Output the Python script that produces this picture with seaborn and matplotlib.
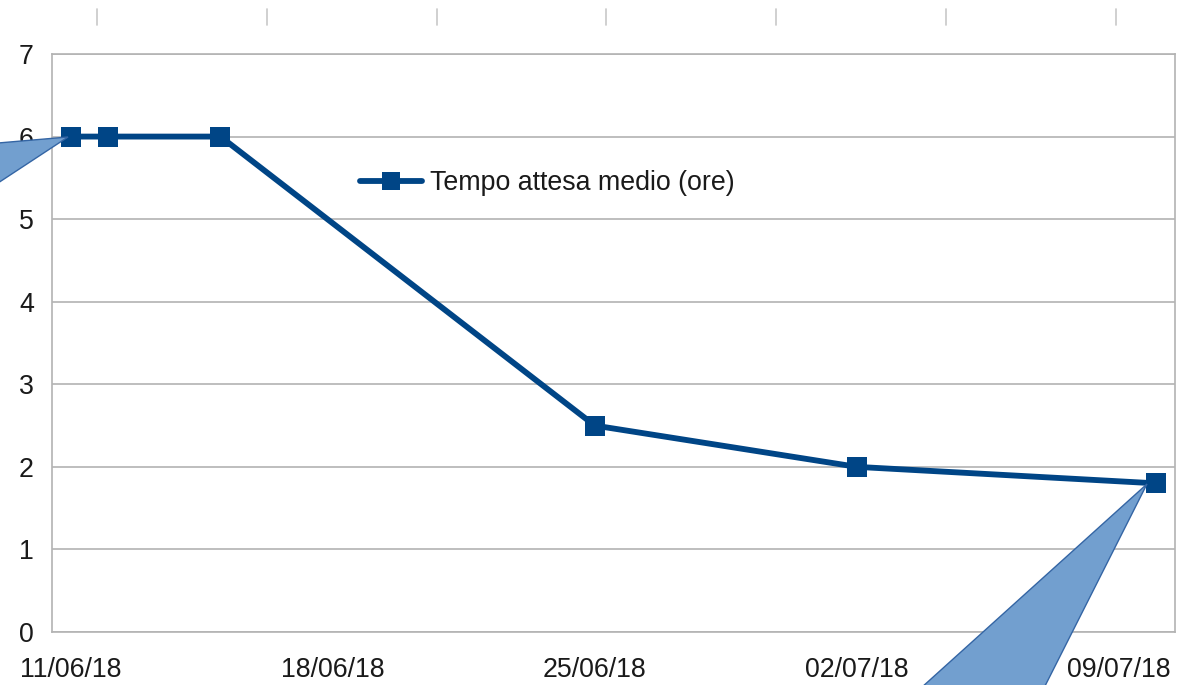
import matplotlib
matplotlib.use("Agg")
import matplotlib.pyplot as plt
import matplotlib.dates as mdates
from matplotlib.patches import Polygon
from matplotlib.lines import Line2D
import seaborn as sns
import pandas as pd

# ---- data ----
dates = ["2018-06-11", "2018-06-12", "2018-06-15", "2018-06-25", "2018-07-02", "2018-07-10"]
values = [6, 6, 6, 2.5, 2, 1.8]
series_name = "Tempo attesa medio (ore)"
tick_dates = ["2018-06-11", "2018-06-18", "2018-06-25", "2018-07-02", "2018-07-09"]

sns.set_theme(style="white")
plt.rcParams["font.family"] = ["Liberation Sans", "DejaVu Sans"]

W, H = 1188, 685
fig = plt.figure(figsize=(W / 100, H / 100), dpi=100)
L, R, T, B = 52, 1175, 54, 632
ax = fig.add_axes([L / W, 1 - B / H, (R - L) / W, (B - T) / H])

# LibreOffice date axis places each day's point (and label) in the middle of the day
half_day = pd.Timedelta(hours=12)
df = pd.DataFrame({"date": pd.to_datetime(dates) + half_day, "value": values})

color = "#004586"
gray = "#b3b3b3"
FS = 19.3
sns.lineplot(data=df, x="date", y="value", ax=ax, color=color, linewidth=4.2,
             marker="s", markersize=14.5, markeredgewidth=0, label=series_name)

ax.set_xlim(pd.Timestamp("2018-06-11"), pd.Timestamp("2018-07-11"))
ax.set_ylim(0, 7)
ax.set_yticks(range(0, 8))
# tick marks at day start, labels at day middle
ax.set_xticks(pd.to_datetime(tick_dates))
ax.xaxis.set_major_formatter(mdates.DateFormatter(""))
ax.set_xticks(pd.to_datetime(tick_dates) + half_day, minor=True)
ax.xaxis.set_minor_formatter(mdates.DateFormatter("%d/%m/%y"))
ax.set_xlabel("")
ax.set_ylabel("")

ax.grid(axis="y", color=gray, linewidth=1.2)
ax.set_axisbelow(True)
for s in ax.spines.values():
    s.set_color(gray)
    s.set_linewidth(1.2)
ax.tick_params(axis="both", which="both", labelsize=FS, labelcolor="#1a1a1a",
               color=gray, width=1.2, direction="out")
ax.tick_params(axis="x", which="major", length=10, pad=8)
ax.tick_params(axis="x", which="minor", length=0, pad=18)
ax.tick_params(axis="y", which="major", length=10, pad=3)

leg = ax.legend(loc="center left", bbox_to_anchor=((360 - L) / (R - L), (B - 183) / (B - T)),
                frameon=False, fontsize=FS, borderpad=0, borderaxespad=0,
                handlelength=2.3, handletextpad=0.3, markerscale=0.9)
for t in leg.get_texts():
    t.set_color("#1a1a1a")

# ---- decorative callout shapes and stray marks from the original screenshot ----
def fp(x, y):
    return (x / W, 1 - y / H)

callouts = [
    [(68, 137), (-2, 143), (-2, 183)],
    [(1147, 484), (921, 688), (1044, 688)],
]
for pts in callouts:
    fig.patches.append(Polygon([fp(*p) for p in pts], closed=True,
                               transform=fig.transFigure, facecolor="#729fcf",
                               edgecolor="#3465a4", linewidth=1.0, zorder=10))

for x in [97, 267, 437, 606, 776, 946, 1116]:
    fig.lines.append(Line2D([x / W, x / W], [1 - 9 / H, 1 - 25 / H],
                            transform=fig.transFigure, color="#c8c8c8", linewidth=1.2))

fig.savefig("out.png", dpi=100, facecolor="white")
